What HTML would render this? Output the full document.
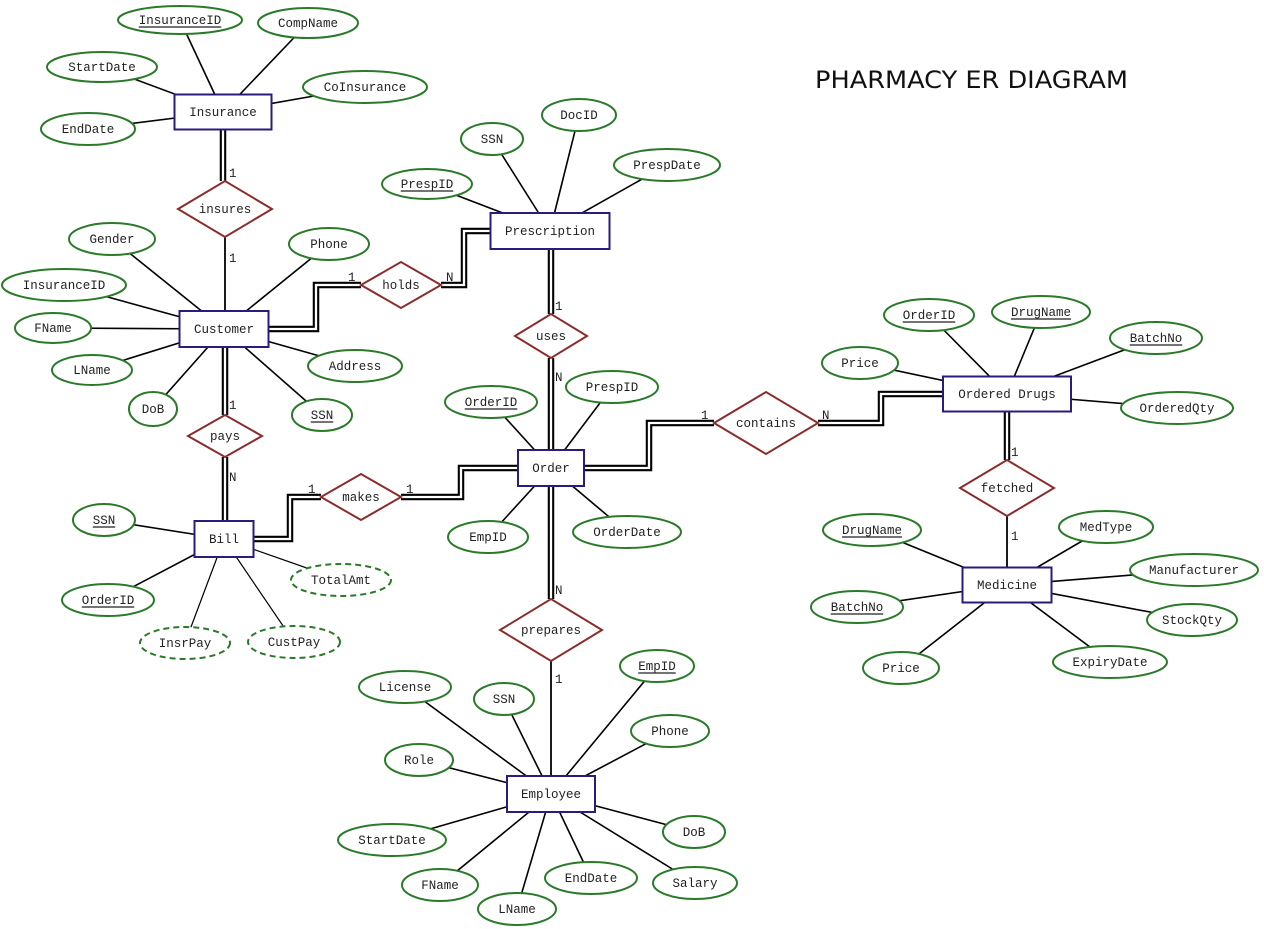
<!DOCTYPE html>
<html><head><meta charset="utf-8"><title>Pharmacy ER Diagram</title>
<style>
html,body{margin:0;padding:0;background:#fff;}
svg{display:block;}
text{font-family:"Liberation Mono",monospace;font-size:12.5px;fill:#222;}
.title{font-family:"DejaVu Sans","Liberation Sans",sans-serif;font-size:24px;fill:#111;}
</style></head>
<body>
<svg id="er" width="1264" height="929" viewBox="0 0 1264 929" xmlns="http://www.w3.org/2000/svg">
<rect x="0" y="0" width="1264" height="929" fill="#fff"/>
<g id="lines"></g><g id="shapes"></g><g id="labels"></g>
<text class="title" x="815" y="88" textLength="313" lengthAdjust="spacingAndGlyphs">PHARMACY ER DIAGRAM</text>
</svg>
<script>
// entities: name, cx, cy, w, h
const entities = [
 ["Insurance",223,112,97,35],["Customer",224,329,89,36],["Prescription",550,231,119,36],
 ["Order",551,468,66,36],["Bill",224,539,59,36],["Ordered Drugs",1007,394,128,35],
 ["Medicine",1007,585,89,35],["Employee",551,794,88,36]
];
// relationships: name, cx, cy, halfW, halfH
const relations = [
 ["insures",225,209,47,28],["holds",401,285,40,23],["uses",551,336,36,22],["pays",225,436,37,21],
 ["makes",361,497,40,23],["contains",766,423,52,31],["fetched",1007,488,47,28],["prepares",551,630,51,31]
];
// attributes: owner, label, cx, cy, rx, ry, key(1)/derived(2)
const attributes = [
 ["Insurance","InsuranceID",180,20,62,14,1],["Insurance","CompName",308,23,50,15,0],["Insurance","StartDate",102,67,55,15,0],
 ["Insurance","CoInsurance",365,87,62,16,0],["Insurance","EndDate",88,129,47,16,0],
 ["Customer","Gender",112,239,43,16,0],["Customer","Phone",329,244,40,16,0],["Customer","InsuranceID",64,285,62,16,0],
 ["Customer","FName",53,328,38,15,0],["Customer","LName",92,370,40,15,0],["Customer","DoB",153,409,24,17,0],
 ["Customer","SSN",322,415,30,16,1],["Customer","Address",355,366,47,16,0],
 ["Prescription","SSN",492,139,31,16,0],["Prescription","DocID",579,115,37,16,0],["Prescription","PrespDate",667,165,53,16,0],
 ["Prescription","PrespID",427,184,45,15,1],
 ["Order","OrderID",491,402,46,16,1],["Order","PrespID",612,387,46,16,0],["Order","EmpID",488,537,40,16,0],["Order","OrderDate",627,532,54,16,0],
 ["Bill","SSN",104,520,31,16,1],["Bill","OrderID",108,600,46,16,1],["Bill","TotalAmt",341,580,50,16,2],
 ["Bill","InsrPay",185,643,45,16,2],["Bill","CustPay",294,642,46,16,2],
 ["Ordered Drugs","OrderID",929,315,45,16,1],["Ordered Drugs","DrugName",1041,312,49,16,1],["Ordered Drugs","BatchNo",1156,338,46,16,1],
 ["Ordered Drugs","Price",860,363,38,16,0],["Ordered Drugs","OrderedQty",1177,408,56,16,0],
 ["Medicine","DrugName",872,530,49,16,1],["Medicine","MedType",1106,527,47,16,0],["Medicine","Manufacturer",1194,570,64,16,0],
 ["Medicine","BatchNo",857,607,46,16,1],["Medicine","StockQty",1192,620,45,16,0],["Medicine","ExpiryDate",1110,662,57,16,0],
 ["Medicine","Price",901,668,38,16,0],
 ["Employee","License",405,687,46,16,0],["Employee","SSN",504,699,30,16,0],["Employee","EmpID",657,666,37,16,1],
 ["Employee","Phone",670,731,39,16,0],["Employee","Role",419,760,34,16,0],["Employee","StartDate",392,840,54,16,0],
 ["Employee","DoB",694,832,31,16,0],["Employee","FName",440,885,38,16,0],["Employee","EndDate",591,878,46,16,0],
 ["Employee","Salary",695,883,42,16,0],["Employee","LName",517,909,39,16,0]
];
// connectors: name, double?, points string, cardinality, labelX, labelY
const connectors = [
 ["insurance-insures",1,"223,129 223,181","1",229,177],
 ["insures-customer",0,"225,237 225,311","1",229,262],
 ["customer-holds",1,"269,329 316,329 316,285 361,285","1",348,281],
 ["holds-prescription",1,"441,285 464,285 464,231 491,231","N",446,281],
 ["prescription-uses",1,"551,249 551,314","1",555,310],
 ["uses-order",1,"551,358 551,450","N",555,381],
 ["customer-pays",1,"225,347 225,415","1",229,409],
 ["pays-bill",1,"225,457 225,521","N",229,481],
 ["bill-makes",1,"254,539 290,539 290,497 321,497","1",308,493],
 ["makes-order",1,"401,497 461,497 461,468 518,468","1",406,493],
 ["order-contains",1,"584,468 649,468 649,423 714,423","1",701,419],
 ["contains-ordereddrugs",1,"818,423 881,423 881,394 943,394","N",822,419],
 ["ordereddrugs-fetched",1,"1007,412 1007,460","1",1011,456],
 ["fetched-medicine",0,"1007,516 1007,568","1",1011,540],
 ["order-prepares",1,"551,486 551,599","N",555,594],
 ["prepares-employee",0,"551,661 551,776","1",555,683]
];

const NS="http://www.w3.org/2000/svg";
const L=document.getElementById('lines'),S=document.getElementById('shapes'),T=document.getElementById('labels');
function mk(tag,attrs,parent){const e=document.createElementNS(NS,tag);for(const k in attrs)e.setAttribute(k,attrs[k]);parent.appendChild(e);return e;}
function slug(s){return s.toLowerCase().replace(/[^a-z0-9]+/g,'-');}
const ent={};entities.forEach(e=>ent[e[0]]=e);

// attribute lines
attributes.forEach(a=>{
 const o=ent[a[0]];
 const ln=mk('line',{x1:o[1],y1:o[2],x2:a[2],y2:a[3],stroke:'#000','stroke-width':a[6]===2?1.2:1.6},L);
 
 
});
// connectors
connectors.forEach(c=>{
 if(c[1]){
  const p=mk('polyline',{points:c[2],fill:'none',stroke:'#000','stroke-width':6.5,'stroke-linejoin':'miter'},L);
  
  
  mk('polyline',{points:c[2],fill:'none',stroke:'#fff','stroke-width':2.3,'stroke-linejoin':'miter'},L);
 } else {
  const p=mk('polyline',{points:c[2],fill:'none',stroke:'#000','stroke-width':1.8},L);
  
  
 }
 const t=mk('text',{x:c[4],y:c[5]},T);t.textContent=c[3];
 
 
});
// entities
entities.forEach(e=>{
 const g=mk('g',{},S);
 
 
 mk('rect',{x:e[1]-e[3]/2,y:e[2]-e[4]/2,width:e[3],height:e[4],fill:'#fff',stroke:'#2b1b7c','stroke-width':2},g);
 const t=mk('text',{x:e[1],y:e[2]+4,'text-anchor':'middle'},g);t.textContent=e[0];
});
// relations
relations.forEach(r=>{
 const g=mk('g',{},S);
 
 
 const [n,x,y,w,h]=r;
 mk('polygon',{points:`${x-w},${y} ${x},${y-h} ${x+w},${y} ${x},${y+h}`,fill:'#fff',stroke:'#8b2c2c','stroke-width':2},g);
 const t=mk('text',{x:x,y:y+4,'text-anchor':'middle'},g);t.textContent=n;
});
// attributes
attributes.forEach(a=>{
 const g=mk('g',{},S);
 
 
 const at={cx:a[2],cy:a[3],rx:a[4],ry:a[5],fill:'#fff',stroke:'#2a7a2a','stroke-width':2};
 if(a[6]===2)at['stroke-dasharray']='6,4';
 mk('ellipse',at,g);
 const t=mk('text',{x:a[2],y:a[3]+4,'text-anchor':'middle'},g);t.textContent=a[1];
 if(a[6]===1){const w=a[1].length*7.5;mk('line',{x1:a[2]-w/2,x2:a[2]+w/2,y1:a[3]+7,y2:a[3]+7,stroke:'#222','stroke-width':1.2},g);}
});
</script>
</body></html>
